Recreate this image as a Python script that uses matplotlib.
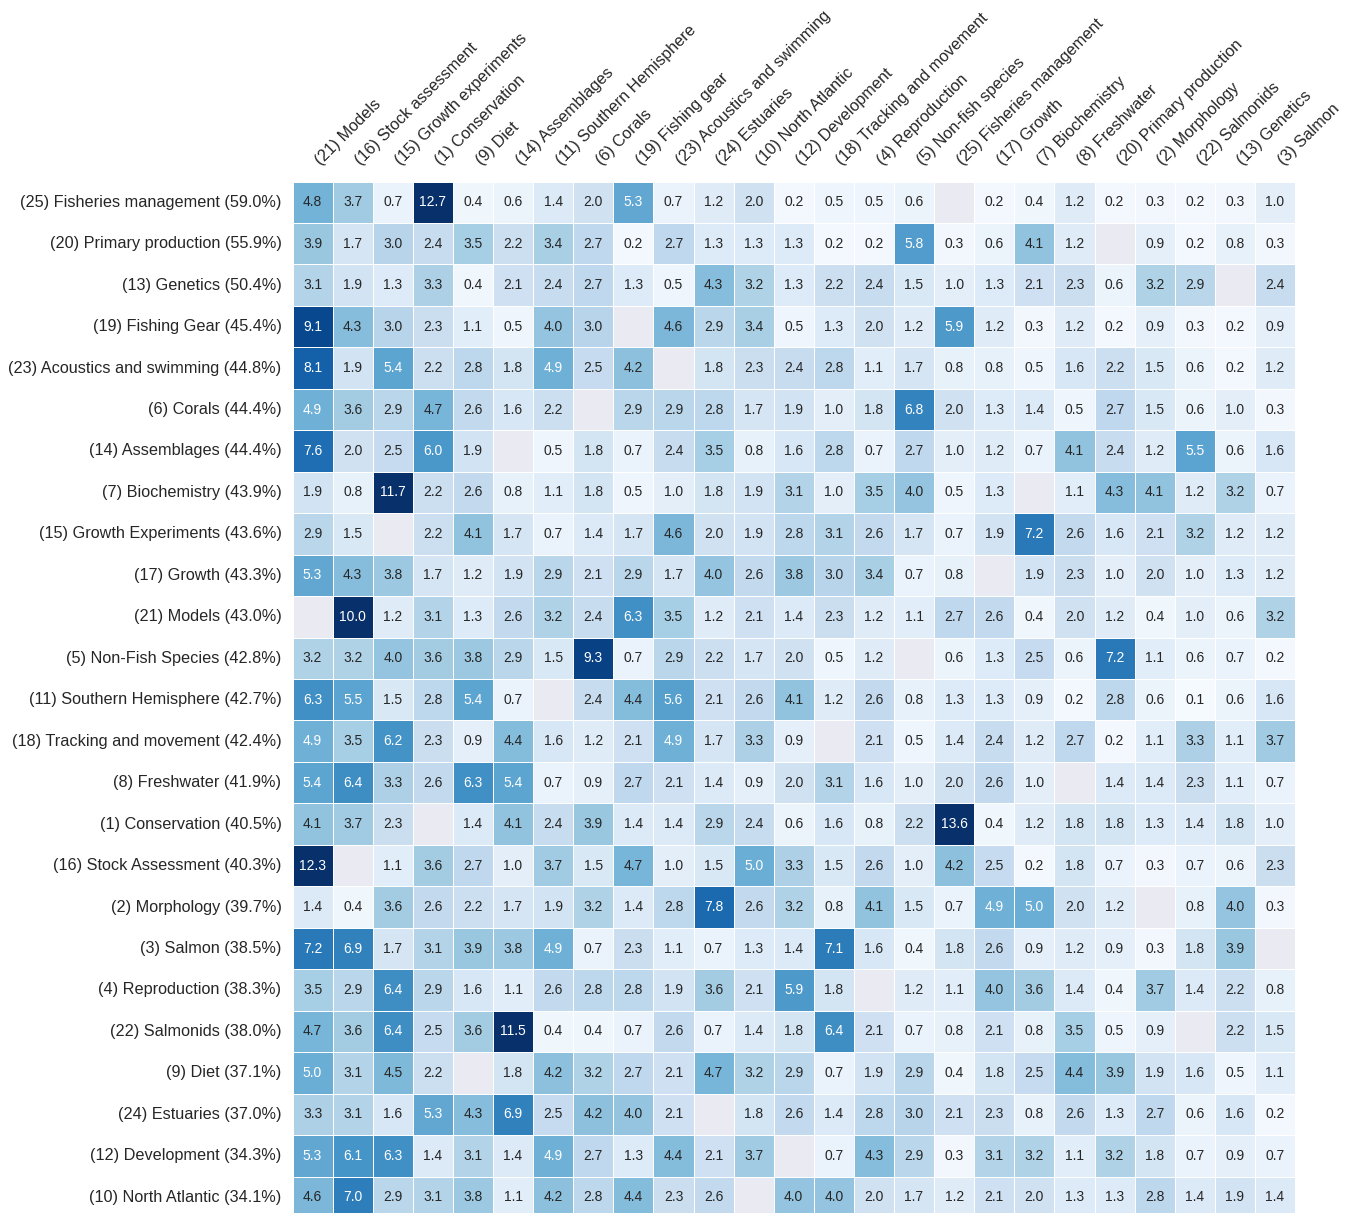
import numpy as np
import pandas as pd
import matplotlib
matplotlib.use("Agg")
import matplotlib.pyplot as plt
import seaborn as sns

nan = np.nan

col_labels = ["(21) Models", "(16) Stock assessment", "(15) Growth experiments", "(1) Conservation",
              "(9) Diet", "(14) Assemblages", "(11) Southern Hemisphere", "(6) Corals",
              "(19) Fishing gear", "(23) Acoustics and swimming", "(24) Estuaries", "(10) North Atlantic",
              "(12) Development", "(18) Tracking and movement", "(4) Reproduction", "(5) Non-fish species",
              "(25) Fisheries management", "(17) Growth", "(7) Biochemistry", "(8) Freshwater",
              "(20) Primary production", "(2) Morphology", "(22) Salmonids", "(13) Genetics", "(3) Salmon"]

row_labels = ["(25) Fisheries management (59.0%)", "(20) Primary production (55.9%)", "(13) Genetics (50.4%)",
              "(19) Fishing Gear (45.4%)", "(23) Acoustics and swimming (44.8%)", "(6) Corals (44.4%)",
              "(14) Assemblages (44.4%)", "(7) Biochemistry (43.9%)", "(15) Growth Experiments (43.6%)",
              "(17) Growth (43.3%)", "(21) Models (43.0%)", "(5) Non-Fish Species (42.8%)",
              "(11) Southern Hemisphere (42.7%)", "(18) Tracking and movement (42.4%)", "(8) Freshwater (41.9%)",
              "(1) Conservation (40.5%)", "(16) Stock Assessment (40.3%)", "(2) Morphology (39.7%)",
              "(3) Salmon (38.5%)", "(4) Reproduction (38.3%)", "(22) Salmonids (38.0%)", "(9) Diet (37.1%)",
              "(24) Estuaries (37.0%)", "(12) Development (34.3%)", "(10) North Atlantic (34.1%)"]

r_fisheries_mgmt = [4.8, 3.7, 0.7, 12.7, 0.4, 0.6, 1.4, 2.0, 5.3, 0.7, 1.2, 2.0, 0.2, 0.5, 0.5, 0.6, nan, 0.2, 0.4, 1.2, 0.2, 0.3, 0.2, 0.3, 1.0]
r_primary_prod = [3.9, 1.7, 3.0, 2.4, 3.5, 2.2, 3.4, 2.7, 0.2, 2.7, 1.3, 1.3, 1.3, 0.2, 0.2, 5.8, 0.3, 0.6, 4.1, 1.2, nan, 0.9, 0.2, 0.8, 0.3]
r_genetics = [3.1, 1.9, 1.3, 3.3, 0.4, 2.1, 2.4, 2.7, 1.3, 0.5, 4.3, 3.2, 1.3, 2.2, 2.4, 1.5, 1.0, 1.3, 2.1, 2.3, 0.6, 3.2, 2.9, nan, 2.4]
r_fishing_gear = [9.1, 4.3, 3.0, 2.3, 1.1, 0.5, 4.0, 3.0, nan, 4.6, 2.9, 3.4, 0.5, 1.3, 2.0, 1.2, 5.9, 1.2, 0.3, 1.2, 0.2, 0.9, 0.3, 0.2, 0.9]
r_acoustics = [8.1, 1.9, 5.4, 2.2, 2.8, 1.8, 4.9, 2.5, 4.2, nan, 1.8, 2.3, 2.4, 2.8, 1.1, 1.7, 0.8, 0.8, 0.5, 1.6, 2.2, 1.5, 0.6, 0.2, 1.2]
r_corals = [4.9, 3.6, 2.9, 4.7, 2.6, 1.6, 2.2, nan, 2.9, 2.9, 2.8, 1.7, 1.9, 1.0, 1.8, 6.8, 2.0, 1.3, 1.4, 0.5, 2.7, 1.5, 0.6, 1.0, 0.3]
r_assemblages = [7.6, 2.0, 2.5, 6.0, 1.9, nan, 0.5, 1.8, 0.7, 2.4, 3.5, 0.8, 1.6, 2.8, 0.7, 2.7, 1.0, 1.2, 0.7, 4.1, 2.4, 1.2, 5.5, 0.6, 1.6]
r_biochemistry = [1.9, 0.8, 11.7, 2.2, 2.6, 0.8, 1.1, 1.8, 0.5, 1.0, 1.8, 1.9, 3.1, 1.0, 3.5, 4.0, 0.5, 1.3, nan, 1.1, 4.3, 4.1, 1.2, 3.2, 0.7]
r_growth_exp = [2.9, 1.5, nan, 2.2, 4.1, 1.7, 0.7, 1.4, 1.7, 4.6, 2.0, 1.9, 2.8, 3.1, 2.6, 1.7, 0.7, 1.9, 7.2, 2.6, 1.6, 2.1, 3.2, 1.2, 1.2]
r_growth = [5.3, 4.3, 3.8, 1.7, 1.2, 1.9, 2.9, 2.1, 2.9, 1.7, 4.0, 2.6, 3.8, 3.0, 3.4, 0.7, 0.8, nan, 1.9, 2.3, 1.0, 2.0, 1.0, 1.3, 1.2]
r_models = [nan, 10.0, 1.2, 3.1, 1.3, 2.6, 3.2, 2.4, 6.3, 3.5, 1.2, 2.1, 1.4, 2.3, 1.2, 1.1, 2.7, 2.6, 0.4, 2.0, 1.2, 0.4, 1.0, 0.6, 3.2]
r_nonfish = [3.2, 3.2, 4.0, 3.6, 3.8, 2.9, 1.5, 9.3, 0.7, 2.9, 2.2, 1.7, 2.0, 0.5, 1.2, nan, 0.6, 1.3, 2.5, 0.6, 7.2, 1.1, 0.6, 0.7, 0.2]
r_south_hemi = [6.3, 5.5, 1.5, 2.8, 5.4, 0.7, nan, 2.4, 4.4, 5.6, 2.1, 2.6, 4.1, 1.2, 2.6, 0.8, 1.3, 1.3, 0.9, 0.2, 2.8, 0.6, 0.1, 0.6, 1.6]
r_tracking = [4.9, 3.5, 6.2, 2.3, 0.9, 4.4, 1.6, 1.2, 2.1, 4.9, 1.7, 3.3, 0.9, nan, 2.1, 0.5, 1.4, 2.4, 1.2, 2.7, 0.2, 1.1, 3.3, 1.1, 3.7]
r_freshwater = [5.4, 6.4, 3.3, 2.6, 6.3, 5.4, 0.7, 0.9, 2.7, 2.1, 1.4, 0.9, 2.0, 3.1, 1.6, 1.0, 2.0, 2.6, 1.0, nan, 1.4, 1.4, 2.3, 1.1, 0.7]
r_conservation = [4.1, 3.7, 2.3, nan, 1.4, 4.1, 2.4, 3.9, 1.4, 1.4, 2.9, 2.4, 0.6, 1.6, 0.8, 2.2, 13.6, 0.4, 1.2, 1.8, 1.8, 1.3, 1.4, 1.8, 1.0]
r_stock = [12.3, nan, 1.1, 3.6, 2.7, 1.0, 3.7, 1.5, 4.7, 1.0, 1.5, 5.0, 3.3, 1.5, 2.6, 1.0, 4.2, 2.5, 0.2, 1.8, 0.7, 0.3, 0.7, 0.6, 2.3]
r_morphology = [1.4, 0.4, 3.6, 2.6, 2.2, 1.7, 1.9, 3.2, 1.4, 2.8, 7.8, 2.6, 3.2, 0.8, 4.1, 1.5, 0.7, 4.9, 5.0, 2.0, 1.2, nan, 0.8, 4.0, 0.3]
r_salmon = [7.2, 6.9, 1.7, 3.1, 3.9, 3.8, 4.9, 0.7, 2.3, 1.1, 0.7, 1.3, 1.4, 7.1, 1.6, 0.4, 1.8, 2.6, 0.9, 1.2, 0.9, 0.3, 1.8, 3.9, nan]
r_reproduction = [3.5, 2.9, 6.4, 2.9, 1.6, 1.1, 2.6, 2.8, 2.8, 1.9, 3.6, 2.1, 5.9, 1.8, nan, 1.2, 1.1, 4.0, 3.6, 1.4, 0.4, 3.7, 1.4, 2.2, 0.8]
r_salmonids = [4.7, 3.6, 6.4, 2.5, 3.6, 11.5, 0.4, 0.4, 0.7, 2.6, 0.7, 1.4, 1.8, 6.4, 2.1, 0.7, 0.8, 2.1, 0.8, 3.5, 0.5, 0.9, nan, 2.2, 1.5]
r_diet = [5.0, 3.1, 4.5, 2.2, nan, 1.8, 4.2, 3.2, 2.7, 2.1, 4.7, 3.2, 2.9, 0.7, 1.9, 2.9, 0.4, 1.8, 2.5, 4.4, 3.9, 1.9, 1.6, 0.5, 1.1]
r_estuaries = [3.3, 3.1, 1.6, 5.3, 4.3, 6.9, 2.5, 4.2, 4.0, 2.1, nan, 1.8, 2.6, 1.4, 2.8, 3.0, 2.1, 2.3, 0.8, 2.6, 1.3, 2.7, 0.6, 1.6, 0.2]
r_development = [5.3, 6.1, 6.3, 1.4, 3.1, 1.4, 4.9, 2.7, 1.3, 4.4, 2.1, 3.7, nan, 0.7, 4.3, 2.9, 0.3, 3.1, 3.2, 1.1, 3.2, 1.8, 0.7, 0.9, 0.7]
r_north_atl = [4.6, 7.0, 2.9, 3.1, 3.8, 1.1, 4.2, 2.8, 4.4, 2.3, 2.6, nan, 4.0, 4.0, 2.0, 1.7, 1.2, 2.1, 2.0, 1.3, 1.3, 2.8, 1.4, 1.9, 1.4]

rows = [r_fisheries_mgmt, r_primary_prod, r_genetics, r_fishing_gear, r_acoustics, r_corals,
        r_assemblages, r_biochemistry, r_growth_exp, r_growth, r_models, r_nonfish, r_south_hemi,
        r_tracking, r_freshwater, r_conservation, r_stock, r_morphology, r_salmon, r_reproduction,
        r_salmonids, r_diet, r_estuaries, r_development, r_north_atl]

df = pd.DataFrame(rows, index=row_labels, columns=col_labels)

sns.set_style("darkgrid")
plt.rcParams['font.family'] = ['Liberation Sans', 'DejaVu Sans']

W, H = 1354, 1213
fig = plt.figure(figsize=(W / 100, H / 100), dpi=100)
left, right, top, bottom = 292.5, 1295.0, 181.5, 1218.0
ax = fig.add_axes([left / W, (H - bottom) / H, (right - left) / W, (bottom - top) / H])
ax.set_facecolor("#EAEAF2")

sns.heatmap(df, ax=ax, cmap="Blues", vmin=0, vmax=10, annot=True, fmt=".1f",
            annot_kws={"size": 10}, linewidths=0.5, linecolor="white", cbar=False)
ax.grid(False)

ax.xaxis.tick_top()
ax.tick_params(axis="both", length=0)
ax.tick_params(axis="y", pad=8, labelsize=11.7, labelcolor=".15")
ax.tick_params(axis="x", pad=10, labelsize=11.7, labelcolor=".15")
plt.setp(ax.get_xticklabels(), rotation=45, ha="left", va="bottom", rotation_mode="default")
plt.setp(ax.get_yticklabels(), rotation=0)
ax.set_xlabel("")
ax.set_ylabel("")

fig.savefig("out.png", dpi=100)
